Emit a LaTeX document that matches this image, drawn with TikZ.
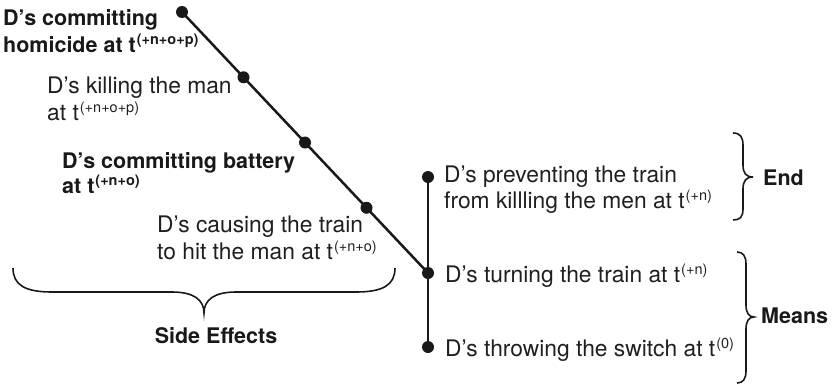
\documentclass[tikz,border=0pt]{standalone}
\usepackage{fontspec}
\setmainfont{TeX Gyre Heros}
\newcommand\supx[1]{\hspace{1pt}\raisebox{8pt}{\fontsize{14.5}{14.5}\selectfont #1}}
\tikzset{
  txt/.style={anchor=base west, inner sep=0pt, font=\fontsize{22.8}{26}\selectfont, text=black!88},
  btxt/.style={anchor=base west, inner sep=0pt, font=\fontsize{21.5}{26}\selectfont\bfseries, text=black!90},
  dot/.style={circle, fill=black!90, inner sep=0pt, minimum size=12pt},
  conn/.style={line width=2.5pt, black!90},
  brace/.style={line width=1.6pt, black!90}
}
\begin{document}
\begin{tikzpicture}[x=1pt,y=-1pt]
\useasboundingbox (0,0) rectangle (836,386);
% dots
\node[dot] (d1) at (182,12) {};
\node[dot] (d2) at (243.5,77.25) {};
\node[dot] (d3) at (305,142.5) {};
\node[dot] (d4) at (366.5,207.75) {};
\node[dot] (dt) at (428,273) {};
\node[dot] (de) at (428,177) {};
\node[dot] (ds) at (428,347) {};
% connectors
\draw[conn] (d1.center) -- (d2.center) -- (d3.center) -- (d4.center) -- (dt.center);
\draw[conn] (de.center) -- (dt.center) -- (ds.center);
% left texts
\node[btxt] (h1) at (3,25) {D’s committing};
\node[btxt] (h2) at (3,52) {homicide at t\supx{(+n+o+p)}};
\node[txt] (k1) at (47,93) {D’s killing the man};
\node[txt] (k2) at (47,120) {at t\supx{(+n+o+p)}};
\node[btxt] (b1) at (62,168) {D’s committing battery};
\node[btxt] (b2) at (62,193) {at t\supx{(+n+o)}};
\node[txt] (c1) at (157,232) {D’s causing the train};
\node[txt] (c2) at (157,259) {to hit the man at t\supx{(+n+o)}};
% right texts
\node[txt] (p1) at (444,182) {D’s preventing the train};
\node[txt] (p2) at (444,208) {from killling the men at t\supx{(+n)}};
\node[txt] (tt) at (445,282) {D’s turning the train at t\supx{(+n)}};
\node[txt] (sw) at (445,356) {D’s throwing the switch at t\supx{(0)}};
\node[btxt] (endl) at (763,185) {End};
\node[btxt] (meansl) at (761,323) {Means};
\node[btxt, anchor=base] (side) at (216,343) {Side Effects};
% braces
\coordinate (sl) at (13,268);
\coordinate (sr) at (395,268);
\coordinate (stip) at (204,313);
\draw[brace] (sl) .. controls (13,285) and (25,292) .. (52,292) -- (172,292)
  .. controls (194,292) and (204,300) .. (stip)
  .. controls (204,300) and (214,292) .. (236,292) -- (356,292)
  .. controls (383,292) and (395,285) .. (sr);
\coordinate (et) at (733,133);
\coordinate (eb) at (733,220);
\coordinate (etip) at (753,177);
\draw[brace] (et) .. controls (740,133) and (743,137) .. (743,145) -- (743,165)
  .. controls (743,173) and (746,177) .. (etip)
  .. controls (746,177) and (743,181) .. (743,189) -- (743,209)
  .. controls (743,217) and (740,220) .. (eb);
\coordinate (mt) at (737,252);
\coordinate (mb) at (737,383);
\coordinate (mtip) at (754,317);
\draw[brace] (mt) .. controls (743,252) and (746,256) .. (746,264) -- (746,305)
  .. controls (746,313) and (749,317) .. (mtip)
  .. controls (749,317) and (746,321) .. (746,329) -- (746,371)
  .. controls (746,379) and (743,383) .. (mb);
\end{tikzpicture}
\end{document}
